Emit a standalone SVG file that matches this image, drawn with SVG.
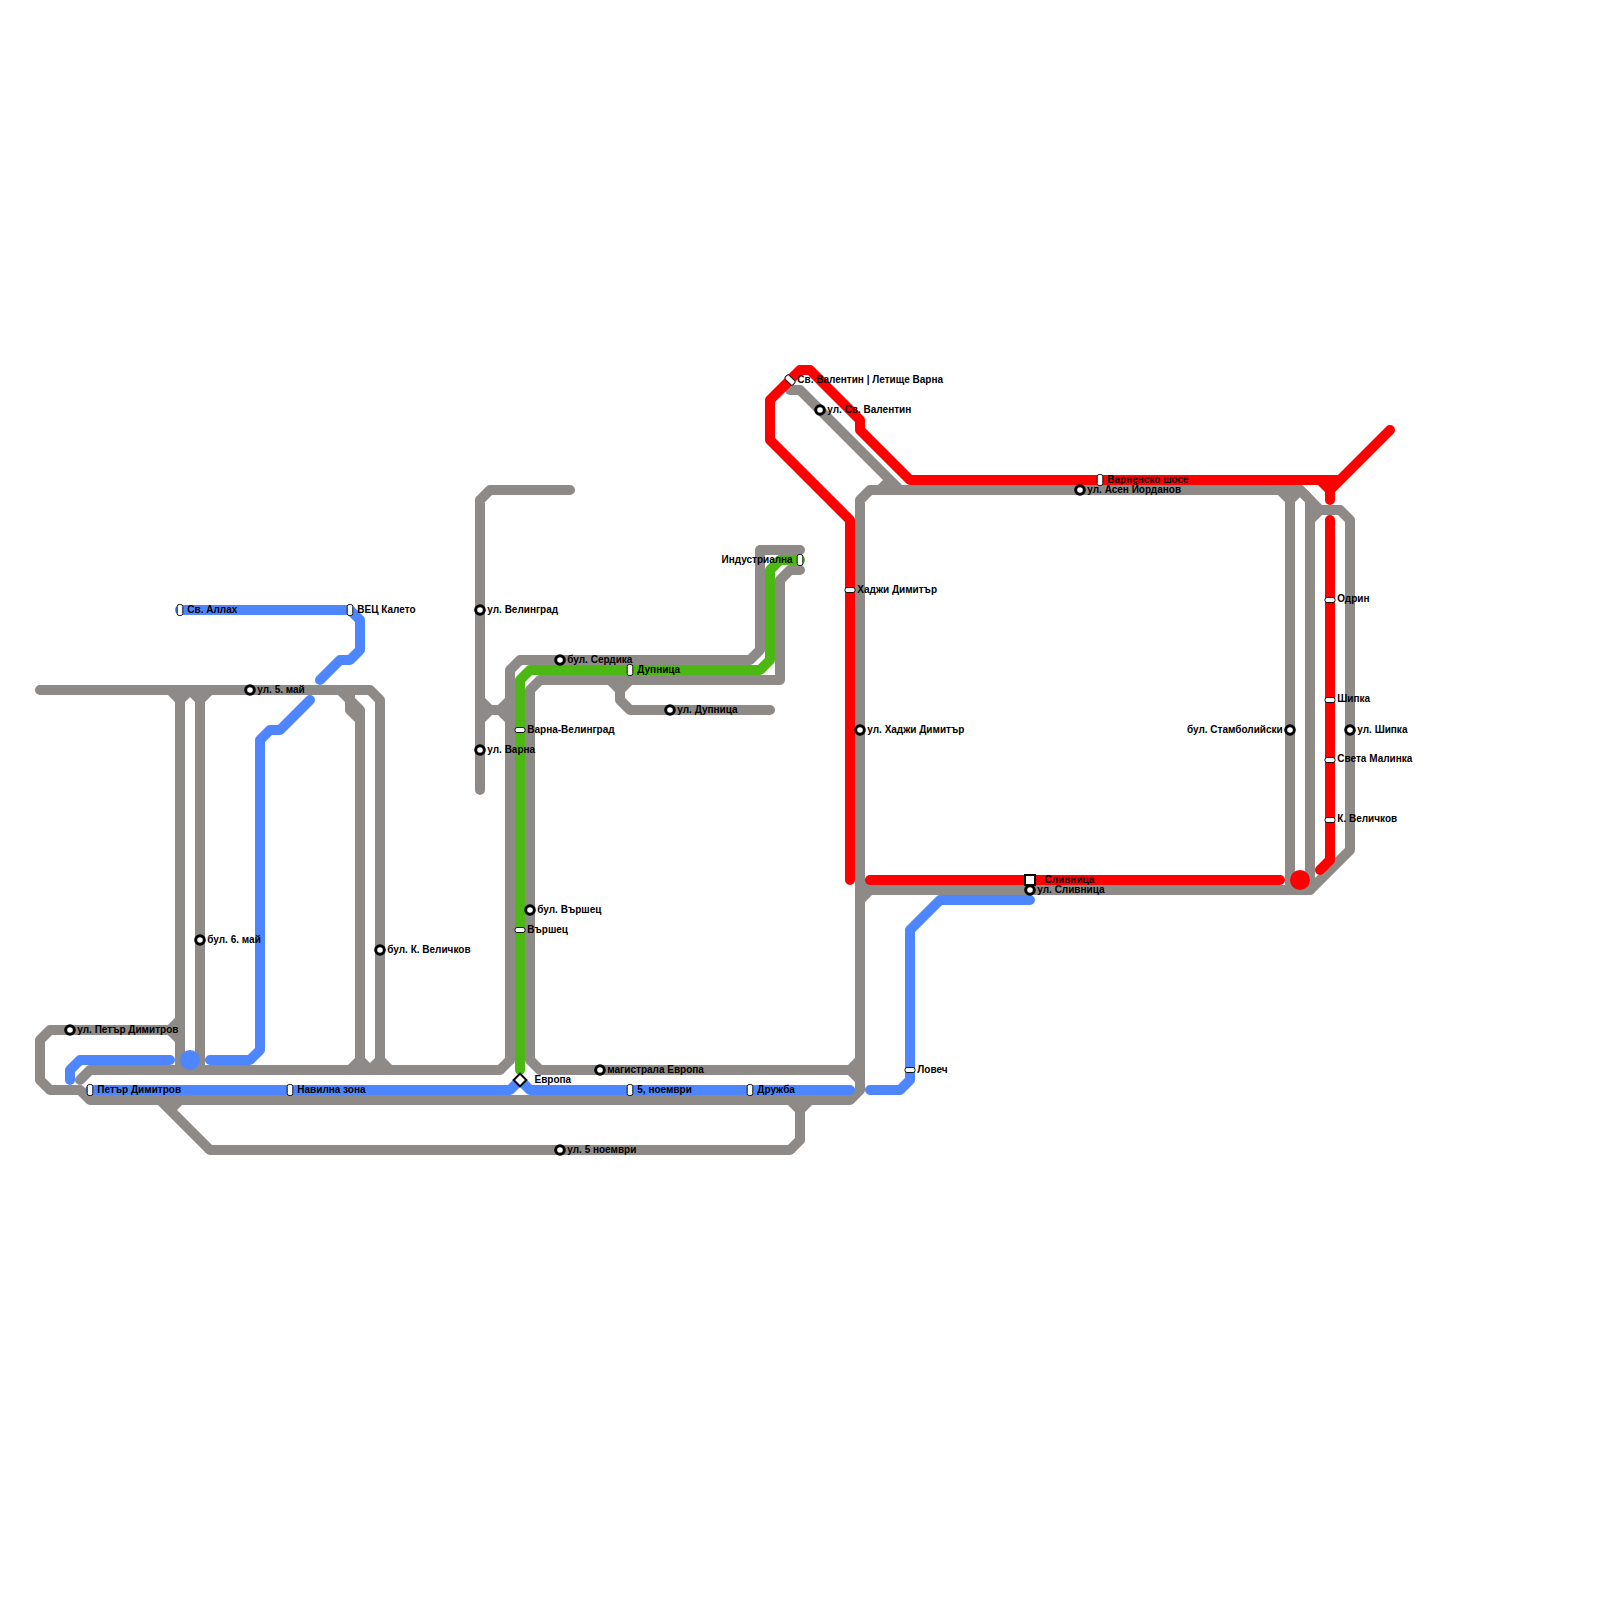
<svg xmlns="http://www.w3.org/2000/svg" width="1600" height="1600" viewBox="0 0 1600 1600">
<style>
.l{fill:none;stroke-width:10;stroke-linecap:round;stroke-linejoin:round}
.g{stroke:#8e8a88}.b{stroke:#4d86ff}.r{stroke:#ff0000}.n{stroke:#4cb814}
.c{fill:#fff;stroke:#000;stroke-width:3}
.p{fill:#fff;stroke:#111;stroke-width:1}
.s{fill:#fff;stroke:#000;stroke-width:2}
text{font-family:"Liberation Sans",Arial,sans-serif;font-size:10px;font-weight:700;fill:#000;dominant-baseline:central}
.e{text-anchor:end}
</style>
<defs>
<circle id="ci" class="c" r="4.3"/>
<rect id="pv" class="p" x="-2.8" y="-5.5" width="5.6" height="11" rx="2"/>
<rect id="ph" class="p" x="-5" y="-2.5" width="10" height="5" rx="2"/>
</defs>
<g id="connectors">
<path class="l g" d="M180 1020L170 1030H50L40 1040V1080L50 1090H80L90 1100H850L860 1090V500L870 490H1300L1320 510H1340L1350 520V850L1310 890H870L860 900"/>
<path class="l g" d="M170 1030L180 1040V1070M180 1040V700L170 690M180 700L190 690L200 700V1070M200 700L210 690"/>
<path class="l g" d="M80 1080L90 1070H500L510 1060V670L520 660H750L760 650V550H800"/>
<path class="l g" d="M40 690H370L380 700V1060L390 1070M340 690L350 700V710L360 720V1060L350 1070M350 690V700L360 710V720M360 1060L370 1070L380 1060"/>
<path class="l g" d="M160 1100L210 1150H790L800 1140V1110L790 1100M800 1110L810 1100M170 1110L180 1100"/>
<path class="l g" d="M570 490H490L480 500V790M480 700L490 710H500L510 700M480 720L490 710M500 710L510 720"/>
<path class="l g" d="M530 1060V690L540 680H780V580L790 570H800M530 1060L540 1070H850L860 1060M850 1070L860 1080"/>
<path class="l g" d="M610 680L620 690V700L630 710H770M620 690L630 680"/>
<path class="l g" d="M790 390H800L900 490M880 490L890 480"/>
<path class="l g" d="M1280 490L1290 500V890M1300 490L1290 500M1300 490L1310 500V890M1310 520L1320 510"/>
<path class="l g" d="M860 880L870 890"/>
<path class="l b" d="M70 1080V1070L80 1060H170"/>
<path class="l b" d="M210 1060H250L260 1050V740L270 730H280L310 700"/>
<path class="l b" d="M320 680L340 660H350L360 650V620L350 610H180"/>
<path class="l b" d="M90 1090H510L520 1080L530 1090H850"/>
<path class="l b" d="M870 1090H900L910 1080V930L940 900H1030"/>
<path class="l n" d="M520 1070V680L530 670H760L770 660V570L780 560H800"/>
<path class="l r" d="M850 880V520L770 440V400L800 370H810L860 420V430L910 480H1340L1390 430M1320 480L1330 490V500M1340 480L1330 490"/>
<path class="l r" d="M870 880H1280"/>
<path class="l r" d="M1320 870L1330 860V520"/>
</g>
<g id="dot-blue"><circle cx="190" cy="1060" r="10" fill="#4d86ff"/></g>
<g id="dot-red"><circle cx="1300" cy="880" r="10" fill="#ff0000"/></g>
<g id="n1"><use href="#ci" x="70" y="1030"/><text x="77.3" y="1029.5">ул. Петър Димитров</text></g>
<g id="n2"><use href="#ci" x="250" y="690"/><text x="257.3" y="689">ул. 5. май</text></g>
<g id="n3"><use href="#ci" x="200" y="940"/><text x="207.3" y="939">бул. 6. май</text></g>
<g id="n4"><use href="#ci" x="380" y="950"/><text x="387.3" y="949">бул. К. Величков</text></g>
<g id="n5"><use href="#ci" x="480" y="610"/><text x="487.3" y="609">ул. Велинград</text></g>
<g id="n6"><use href="#ci" x="480" y="750"/><text x="487.3" y="749">ул. Варна</text></g>
<g id="n7"><use href="#ci" x="560" y="660"/><text x="567.3" y="659">бул. Сердика</text></g>
<g id="n8"><use href="#ci" x="670" y="710"/><text x="677.3" y="709">ул. Дупница</text></g>
<g id="n9"><use href="#ci" x="530" y="910"/><text x="537.3" y="909">бул. Вършец</text></g>
<g id="n10"><use href="#ci" x="600" y="1070"/><text x="607.3" y="1069">магистрала Европа</text></g>
<g id="n11"><use href="#ci" x="560" y="1150"/><text x="567.3" y="1149">ул. 5 ноември</text></g>
<g id="n12"><use href="#ci" x="820" y="410"/><text x="827.3" y="409">ул. Св. Валентин</text></g>
<g id="n13"><use href="#ci" x="860" y="730"/><text x="867.3" y="729">ул. Хаджи Димитър</text></g>
<g id="n14"><use href="#ci" x="1080" y="490"/><text x="1087.3" y="489">ул. Асен Йорданов</text></g>
<g id="n15"><rect class="s" x="1025" y="875" width="10" height="10"/><text x="1044.5" y="879">Сливница</text></g>
<g id="n16"><use href="#ci" x="1030" y="890"/><text x="1037.3" y="889">ул. Сливница</text></g>
<g id="n17"><use href="#ci" x="1290" y="730"/><text class="e" x="1282.7" y="729">бул. Стамболийски</text></g>
<g id="n18"><use href="#ci" x="1350" y="730"/><text x="1357.3" y="729">ул. Шипка</text></g>
<g id="n19"><use href="#pv" x="180" y="610"/><text x="187.3" y="609">Св. Аллах</text></g>
<g id="n20"><use href="#pv" x="350" y="610"/><text x="357.3" y="609">ВЕЦ Калето</text></g>
<g id="n21"><use href="#pv" x="90" y="1090"/><text x="97.3" y="1089">Петър Димитров</text></g>
<g id="n22"><use href="#pv" x="290" y="1090"/><text x="297.3" y="1089">Навилна зона</text></g>
<g id="n23"><use href="#pv" x="630" y="670"/><text x="637.3" y="669">Дупница</text></g>
<g id="n24"><use href="#pv" x="630" y="1090"/><text x="637.3" y="1089">5, ноември</text></g>
<g id="n25"><use href="#pv" x="750" y="1090"/><text x="757.3" y="1089">Дружба</text></g>
<g id="n26"><use href="#pv" x="800" y="560"/><text class="e" x="792.7" y="559">Индустриална</text></g>
<g id="n27"><use href="#pv" x="1100" y="480"/><text x="1107.3" y="479">Варненско шосе</text></g>
<g id="n28"><use href="#ph" x="520" y="730"/><text x="527.3" y="729">Варна-Велинград</text></g>
<g id="n29"><use href="#ph" x="520" y="930"/><text x="527.3" y="929">Вършец</text></g>
<g id="n30"><use href="#ph" x="850" y="590"/><text x="857.3" y="589">Хаджи Димитър</text></g>
<g id="n31"><use href="#ph" x="910" y="1070"/><text x="917.3" y="1069">Ловеч</text></g>
<g id="n32"><use href="#ph" x="1330" y="600"/><text x="1337.3" y="598.5">Одрин</text></g>
<g id="n33"><use href="#ph" x="1330" y="700"/><text x="1337.3" y="698.5">Шипка</text></g>
<g id="n34"><use href="#ph" x="1330" y="760"/><text x="1337.3" y="758.5">Света Малинка</text></g>
<g id="n35"><use href="#ph" x="1330" y="820"/><text x="1337.3" y="818.5">К. Величков</text></g>
<g id="n36"><rect class="p" x="-2.8" y="-5.5" width="5.6" height="11" rx="2" transform="translate(790 380) rotate(-45)"/><text x="797.3" y="379">Св. Валентин | Летище Варна</text></g>
<g id="n37"><rect class="s" x="-4.5" y="-4.5" width="9" height="9" transform="translate(520 1080) rotate(45)"/><text x="534.5" y="1079">Европа</text></g>
</svg>
